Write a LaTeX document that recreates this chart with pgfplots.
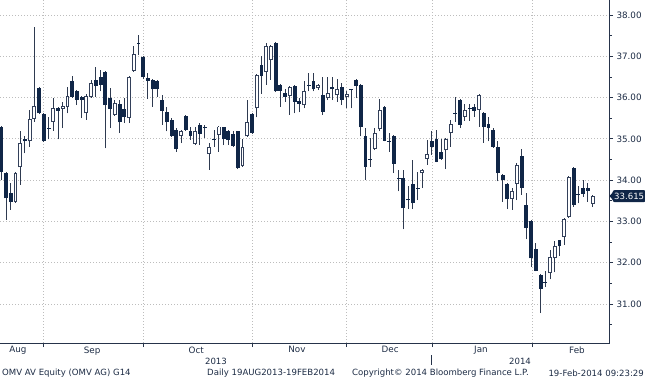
\documentclass[border=0pt]{standalone}
\usepackage{fontspec}
\setmainfont{DejaVu Sans}
\usepackage{pgfplots}
\usepackage{pgfplotstable}
\pgfplotsset{compat=1.18}
\definecolor{navy}{HTML}{102647}
\definecolor{wickc}{HTML}{2E3A50}
\definecolor{hollowc}{HTML}{33405A}
\definecolor{gridc}{HTML}{BDBDBD}
\definecolor{txtc}{HTML}{1C2B44}
\definecolor{axisc}{HTML}{26334A}

% down (filled) candles: index open high low close
\pgfplotstableread{
i o h l c
0 35.30 35.32 34.00 34.20
1 34.17 34.20 33.04 33.56
2 33.70 33.93 33.28 33.47
5 34.99 35.07 34.65 34.94
8 36.23 36.25 35.60 35.62
9 35.60 35.62 34.92 34.94
10 35.27 35.54 34.99 35.25
12 35.74 35.78 34.99 35.68
15 36.39 36.52 36.00 36.02
16 36.17 36.19 35.82 35.94
17 36.01 36.03 35.50 35.94
20 36.43 36.75 36.02 36.28
21 36.49 36.67 36.15 36.31
22 36.63 36.65 34.77 35.82
23 36.00 36.23 35.26 35.72
25 35.85 35.94 35.14 35.40
26 35.72 36.00 35.38 35.52
29 37.32 37.52 37.03 37.30
30 36.99 37.01 36.44 36.49
31 36.47 36.59 35.96 36.41
32 36.43 36.45 35.78 36.20
33 36.41 36.43 36.02 36.20
34 35.94 36.06 35.34 35.68
35 35.64 35.78 35.18 35.40
36 35.46 35.50 35.05 35.07
37 35.22 35.26 34.69 34.75
39 35.56 35.58 35.20 35.22
40 35.18 35.30 34.98 35.06
42 35.34 35.38 34.85 35.12
43 35.29 35.34 35.02 35.27
45 34.99 35.22 34.81 34.97
47 35.28 35.30 34.85 34.99
48 35.20 35.22 34.85 34.98
49 35.12 35.18 34.80 34.83
50 35.18 35.20 34.27 34.29
53 35.60 35.62 35.13 35.15
55 36.79 37.01 36.09 36.52
58 37.33 37.35 36.13 36.15
59 36.31 36.33 35.78 36.17
60 36.12 36.20 35.90 36.02
62 36.28 36.30 35.62 35.90
63 35.92 35.98 35.64 35.85
65 36.31 36.60 36.15 36.29
66 36.39 36.60 36.15 36.20
68 36.06 36.51 35.58 35.66
70 36.25 36.49 35.94 36.20
72 36.25 36.36 35.82 35.94
74 36.20 36.22 35.74 36.18
75 36.43 36.45 35.98 36.28
76 36.31 36.33 35.06 35.28
77 35.06 35.26 34.01 34.33
78 34.52 35.02 34.33 34.50
81 35.77 35.79 34.94 34.96
82 34.95 35.15 34.69 34.93
83 35.07 35.09 34.17 34.40
84 34.06 34.25 33.73 34.04
85 34.05 34.25 32.81 33.32
86 33.54 33.85 33.30 33.51
87 33.91 34.49 33.30 33.44
88 33.82 34.21 33.52 33.80
91 34.94 35.18 34.61 34.81
92 34.99 35.22 34.43 34.45
93 34.69 34.99 34.49 34.51
96 35.63 36.02 35.42 35.61
97 35.94 35.96 35.26 35.34
99 35.75 35.85 35.44 35.73
100 35.77 35.85 35.54 35.68
102 35.62 35.64 34.91 35.28
103 35.36 35.54 34.94 35.26
104 35.22 35.26 34.79 34.81
105 34.81 34.96 33.97 34.17
106 34.13 34.15 33.48 34.01
107 33.91 33.93 33.30 33.54
110 34.59 34.75 33.65 33.81
111 33.40 33.69 32.57 32.84
112 33.02 33.04 31.91 32.11
113 32.33 32.48 31.79 31.81
114 31.71 31.73 30.78 31.36
115 31.53 31.79 31.41 31.51
118 32.54 32.56 32.17 32.40
121 34.29 34.31 33.36 33.40
122 33.67 33.85 33.44 33.65
123 33.81 34.01 33.60 33.66
124 33.81 33.93 33.48 33.74
}\downdata

% up (hollow) candles: index open high low close
\pgfplotstableread{
i o h l c
3 33.47 34.20 33.45 34.17
4 34.31 35.18 33.89 34.90
6 34.94 35.70 34.81 35.48
7 35.48 37.72 35.42 35.80
11 35.42 36.00 35.20 35.74
13 35.72 35.90 35.26 35.80
14 35.77 36.25 35.62 36.05
18 35.62 36.09 35.46 36.05
19 36.02 36.43 36.00 36.35
24 35.58 35.94 35.56 35.86
27 35.50 36.53 35.38 36.51
28 36.65 37.25 36.63 37.05
38 35.07 35.22 34.90 35.18
41 34.88 35.30 34.85 35.18
44 34.64 34.90 34.25 34.81
46 35.10 35.32 34.69 35.30
51 34.35 34.99 34.33 34.81
52 35.06 35.94 35.04 35.40
54 35.74 36.57 35.52 36.55
56 36.63 37.31 36.31 37.25
57 36.91 37.28 36.43 37.25
61 36.04 36.27 35.58 36.25
64 35.82 36.39 35.74 36.17
67 36.23 36.33 36.18 36.31
69 35.98 36.51 35.94 36.10
71 36.06 36.44 35.90 36.20
73 36.01 36.17 35.74 36.09
79 34.75 35.26 34.73 35.14
80 35.23 35.96 35.18 35.69
89 34.17 34.27 33.81 34.25
90 34.51 34.98 34.37 34.64
94 34.72 35.01 34.27 34.99
95 35.14 35.46 34.81 35.36
98 35.54 35.85 35.44 35.69
101 35.70 36.08 35.30 36.06
108 33.54 33.81 33.28 33.75
109 33.91 34.41 33.52 34.37
116 31.75 32.31 31.60 32.15
117 32.11 32.52 31.77 32.40
119 32.62 33.08 32.44 33.06
120 33.10 34.09 33.08 34.07
125 33.43 33.65 33.35 33.615
}\updata

\begin{document}
\begin{tikzpicture}
\useasboundingbox (0bp,-37bp) rectangle (645bp,343bp);
\begin{axis}[
  at={(0bp,0bp)}, anchor=south west,
  scale only axis, width=609bp, height=343bp,
  xmin=-0.275, xmax=128.47, ymin=30.058, ymax=38.363,
  axis line style={draw=none},
  xtick={8.8,30,53,72.9,91.1,112.2}, xticklabels={},
  extra x ticks={3.5,19.2,41.2,62.5,82.2,101.4,121.7},
  extra x tick labels={Aug,Sep,Oct,Nov,Dec,Jan,Feb},
  extra x tick style={grid=none, major tick length=0pt},
  ytick={31,32,33,34,35,36,37,38},
  yticklabels={31.00,32.00,33.00,34.00,35.00,36.00,37.00,38.00},
  minor ytick={30.5,31.5,...,37.5},
  xtick pos=bottom, ytick pos=right, yticklabel pos=right,
  tick align=outside, major tick length=4bp, minor tick length=2.5bp,
  tick style={axisc, line width=0.8bp},
  xmajorgrids, ymajorgrids,
  major grid style={gridc, line width=0.8bp, dash pattern=on 1bp off 2bp},
  ticklabel style={font=\fontsize{8.8}{10}\selectfont, text=txtc},
  yticklabel style={anchor=west},
  candle/.style={draw=none, mark=none, forget plot},
]
% wicks
\addplot[candle,
  error bars/.cd, y dir=plus, y explicit, error mark=none,
  error bar style={wickc, line width=1bp}]
  table[x=i, y=l, y error plus expr=\thisrow{h}-\thisrow{l}] {\downdata};
\addplot[candle,
  error bars/.cd, y dir=plus, y explicit, error mark=none,
  error bar style={wickc, line width=1bp}]
  table[x=i, y=l, y error plus expr=\thisrow{h}-\thisrow{l}] {\updata};
% filled bodies
\addplot[candle,
  error bars/.cd, y dir=plus, y explicit, error mark=none,
  error bar style={navy, line width=3.9bp}]
  table[x=i, y=c, y error plus expr=\thisrow{o}-\thisrow{c}] {\downdata};
% hollow bodies: outline then white inside
\addplot[candle,
  error bars/.cd, y dir=plus, y explicit, error mark=none,
  error bar style={hollowc, line width=3.9bp}]
  table[x=i, y=o, y error plus expr=\thisrow{c}-\thisrow{o}] {\updata};
\addplot[candle,
  error bars/.cd, y dir=plus, y explicit, error mark=none,
  error bar style={white, line width=1.9bp}]
  table[x=i, y expr=\thisrow{o}+0.024, y error plus expr=\thisrow{c}-\thisrow{o}-0.048] {\updata};
\end{axis}
\draw[axisc, line width=0.9bp] (0bp,0bp) -- (609bp,0bp) -- (609bp,343bp);
\begin{scope}[every node/.style={font=\fontsize{8.6}{10}\selectfont, text=txtc, inner sep=0pt}]
\node at (216bp,-18.7bp) {2013};
\node at (520bp,-18.7bp) {2014};
\draw[axisc, line width=0.8bp] (431bp,-12bp) -- (431bp,-22bp);
\node[anchor=west] at (2bp,-30.3bp) {OMV AV Equity (OMV AG) G14};
\node[anchor=west] at (207bp,-30.3bp) {Daily 19AUG2013-19FEB2014};
\node[anchor=west] at (352bp,-30.3bp) {Copyright© 2014 Bloomberg Finance L.P.};
\node[anchor=east] at (644bp,-30.3bp) {19-Feb-2014 09:23:29};
\end{scope}
\fill[navy] (609.5bp,146.9bp) -- (613.5bp,151.5bp) -- (613.5bp,142.3bp) -- cycle;
\node[fill=navy, text=white, rounded corners=2bp, inner xsep=1.5bp, inner ysep=0pt,
  minimum height=12bp, anchor=west, font=\fontsize{8.6}{10}\selectfont] at (612.5bp,146.9bp) {33.615};
\end{tikzpicture}
\end{document}
